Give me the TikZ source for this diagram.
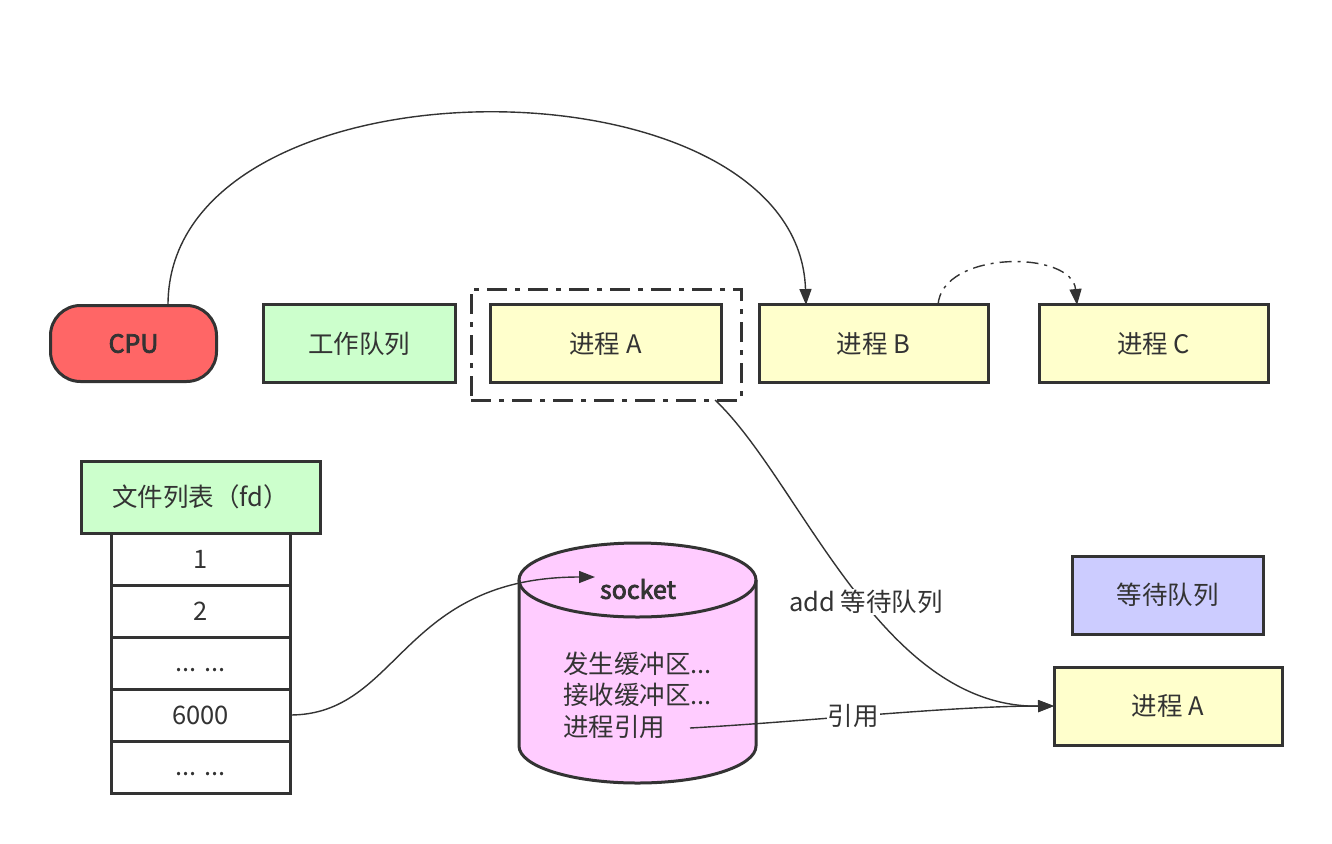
\documentclass[tikz,border=0pt]{standalone}
\usepackage{fontspec}
\setmainfont{Noto Sans CJK SC}[AutoFakeBold=3]
\usetikzlibrary{arrows.meta}
\definecolor{ln}{HTML}{333333}
\definecolor{cpuc}{HTML}{FF6666}
\definecolor{grn}{HTML}{CCFFCC}
\definecolor{yel}{HTML}{FFFFCC}
\definecolor{blu}{HTML}{CCCCFF}
\definecolor{pnk}{HTML}{FFCCFF}
\tikzset{
  box/.style={draw=ln, line width=3pt, text=ln, inner sep=0pt, outer sep=0pt, font=\fontsize{25.5}{30}\selectfont},
  cell/.style={box, fill=white, minimum width=179pt, minimum height=52pt, anchor=north},
  dotcell/.style={cell, text height=0pt, text depth=0pt},
  lbl/.style={text=ln, inner sep=1pt, font=\fontsize{25.5}{30}\selectfont},
  conn/.style={draw=ln, line width=1.4pt, -{Triangle[length=16pt,width=12pt]}},
}
\begin{document}
\begin{tikzpicture}[x=1pt,y=-1pt]
\useasboundingbox (0,0) rectangle (1332,843);
% top row
\node[box, fill=cpuc, rounded corners=30pt, minimum width=166pt, minimum height=76pt, font=\fontsize{25}{30}\selectfont\bfseries] (cpu) at (133.5,343.5) {CPU};
\node[box, fill=grn, minimum width=192pt, minimum height=78pt] (work) at (359,343.5) {工作队列};
\node[box, fill=yel, minimum width=231pt, minimum height=78pt] (pa) at (605.5,343.5) {进程 A};
\node[draw=ln, line width=3pt, dash pattern=on 20pt off 8pt on 5pt off 8pt, minimum width=270pt, minimum height=111pt, inner sep=0pt] (grp) at (606,344.5) {};
\node[box, fill=yel, minimum width=229pt, minimum height=78pt] (pb) at (873.5,343.5) {进程 B};
\node[box, fill=yel, minimum width=229pt, minimum height=78pt] (pc) at (1153.5,343.5) {进程 C};
\coordinate (cputop) at (168,305);
\coordinate (pbin) at (806,305);
\draw[conn] (cputop) .. controls (168,50) and (798,50) .. (pbin);
\coordinate (pbtop) at (938,305);
\coordinate (pcin) at (1077,305);
\draw[conn, dash pattern=on 12pt off 6pt on 3pt off 6pt] (pbtop) .. controls (942,250) and (1072,250) .. (pcin);
% fd table
\node[box, fill=grn, minimum width=239pt, minimum height=72pt] (fd) at (200.5,497) {文件列表（fd）};
\node[cell] (c1) at (200.5,533) {1};
\node[cell] (c2) at (c1.south) {2};
\node[dotcell] (c3) at (c2.south) {\raisebox{-8pt}{... ...}};
\node[cell] (c4) at (c3.south) {6000};
\node[dotcell] (c5) at (c4.south) {\raisebox{-8pt}{... ...}};
% cylinder
\fill[pnk] (519,580) -- (519,746) arc[start angle=180,end angle=0,x radius=118.5,y radius=37] -- (756,580) arc[start angle=0,end angle=-180,x radius=118.5,y radius=37] -- cycle;
\draw[ln, line width=3pt] (519,580) -- (519,746) arc[start angle=180,end angle=0,x radius=118.5,y radius=37] -- (756,580);
\draw[ln, line width=3pt] (637.5,580) ellipse [x radius=118.5, y radius=37];
\node[lbl, font=\fontsize{25}{30}\selectfont\bfseries] (sock) at (638,589) {socket};
\node[lbl, anchor=west, align=left, font=\fontsize{25.5}{31.5}\selectfont] (buf) at (562,695) {发生缓冲区...\\接收缓冲区...\\进程引用};
\coordinate (sockin) at (595,577);
\draw[conn] (c4.east) .. controls (400,715) and (400,577) .. (sockin);
% right side
\node[box, fill=blu, minimum width=191pt, minimum height=78pt] (wq) at (1167.5,595) {等待队列};
\node[box, fill=yel, minimum width=228pt, minimum height=78pt] (pa2) at (1168,706) {进程 A};
\coordinate (grpout) at (715,400);
\draw[conn] (grpout) .. controls (800,480) and (880,708) .. (pa2.west);
\node[lbl, fill=white] (addl) at (866,602) {add 等待队列};
\coordinate (refout) at (690,728);
\draw[conn] (refout) .. controls (800,722) and (950,706) .. (pa2.west);
\node[lbl, fill=white] (refl) at (853,716) {引用};
\end{tikzpicture}
\end{document}
